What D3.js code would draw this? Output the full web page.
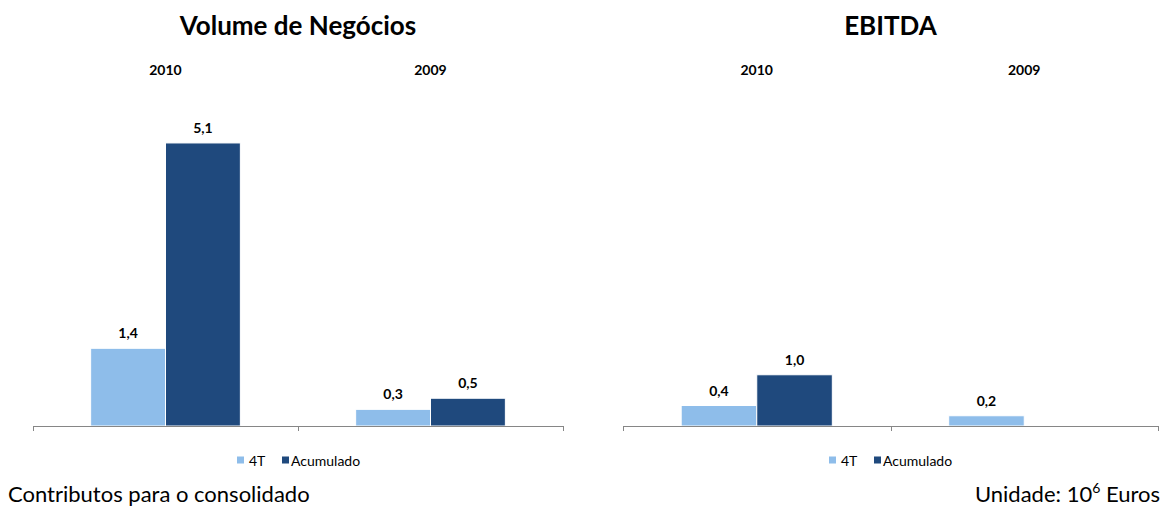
<!DOCTYPE html>
<html>
<head>
<meta charset="utf-8">
<script src="https://cdn.jsdelivr.net/npm/d3@7/dist/d3.min.js"></script>
<style>
  html, body { margin: 0; padding: 0; background: #fff; }
  svg { display: block; font-family: Lato, "Open Sans", sans-serif; }
</style>
</head>
<body>
<svg id="chart" width="1169" height="509"></svg>
<script>
// Categories and series
const years = ["2010", "2009"];
const seriesNames = ["4T", "Acumulado"];
const seriesColors = ["#8EBDEA", "#1F497D"];

// Volume de Negócios (10^6 Euros)
const volume4T = [1.4, 0.3];
const volumeAcumulado = [5.1, 0.5];

// EBITDA (10^6 Euros); no cumulative value shown for 2009
const ebitda4T = [0.4, 0.2];
const ebitdaAcumulado = [1.0, null];

const fmt = v => d3.format(".1f")(v).replace(".", ",");

const svg = d3.select("#chart");

function panel(opts) {
  const { title, left, right, yMax, s4T, sAcum, legendX } = opts;
  const baseY = 426, topY = 93;
  const g = svg.append("g");

  const x0 = d3.scaleBand().domain(years).range([left, right]).paddingInner(0).paddingOuter(0);
  const x1 = d3.scaleBand().domain(seriesNames).range([0, x0.bandwidth()]).paddingInner(0).paddingOuter(0.77);
  const y = d3.scaleLinear().domain([0, yMax]).range([baseY, topY]);

  // title
  g.append("text")
    .attr("x", (left + right) / 2).attr("y", 35)
    .attr("text-anchor", "middle")
    .attr("font-size", 26).attr("font-weight", "bold").attr("fill", "#000")
    .text(title);

  // year labels above each group
  g.selectAll(".yr").data(years).join("text")
    .attr("x", d => x0(d) + x0.bandwidth() / 2)
    .attr("y", 75)
    .attr("text-anchor", "middle")
    .attr("font-size", 14).attr("font-weight", "bold").attr("fill", "#000")
    .text(d => d);

  const rows = [];
  years.forEach((yr, i) => {
    rows.push({ year: yr, series: "4T", value: s4T[i], color: seriesColors[0] });
    rows.push({ year: yr, series: "Acumulado", value: sAcum[i], color: seriesColors[1] });
  });
  const data = rows.filter(r => r.value != null);

  g.selectAll(".bar").data(data).join("rect")
    .attr("x", d => x0(d.year) + x1(d.series))
    .attr("y", d => y(d.value))
    .attr("width", x1.bandwidth())
    .attr("height", d => baseY - y(d.value))
    .attr("fill", d => d.color)
    .attr("stroke", "#fff").attr("stroke-width", 1);

  g.selectAll(".lbl").data(data).join("text")
    .attr("x", d => x0(d.year) + x1(d.series) + x1.bandwidth() / 2)
    .attr("y", d => y(d.value) - 10)
    .attr("text-anchor", "middle")
    .attr("font-size", 14).attr("font-weight", "bold").attr("fill", "#000")
    .text(d => fmt(d.value));

  // category axis with boundary ticks
  const axisG = g.append("g").attr("transform", `translate(0,${baseY})`);
  axisG.append("line")
    .attr("x1", left).attr("x2", right).attr("y1", 0.5).attr("y2", 0.5)
    .attr("stroke", "#868686").attr("stroke-width", 1);
  const tickXs = years.map(d => x0(d)).concat([right]);
  axisG.selectAll(".tk").data(tickXs).join("line")
    .attr("x1", d => Math.round(d) + 0.5).attr("x2", d => Math.round(d) + 0.5)
    .attr("y1", 0).attr("y2", 5)
    .attr("stroke", "#868686").attr("stroke-width", 1);

  // legend
  const lg = g.append("g").attr("transform", `translate(${legendX},460)`);
  lg.append("rect").attr("x", 0).attr("y", -3.5).attr("width", 7).attr("height", 7).attr("fill", seriesColors[0]);
  lg.append("text").attr("x", 12).attr("y", 5.5).attr("font-size", 14).attr("fill", "#000").text(seriesNames[0]);
  lg.append("rect").attr("x", 45).attr("y", -3.5).attr("width", 7).attr("height", 7).attr("fill", seriesColors[1]);
  lg.append("text").attr("x", 54).attr("y", 5.5).attr("font-size", 14).attr("fill", "#000").text(seriesNames[1]);
}

panel({ title: "Volume de Negócios", left: 33, right: 563, yMax: 6, s4T: volume4T, sAcum: volumeAcumulado, legendX: 237 });
panel({ title: "EBITDA", left: 623, right: 1158, yMax: 6.5, s4T: ebitda4T, sAcum: ebitdaAcumulado, legendX: 829 });

// footer notes
svg.append("text")
  .attr("x", 8).attr("y", 502)
  .attr("font-size", 22).attr("fill", "#000")
  .text("Contributos para o consolidado");

const unit = svg.append("text")
  .attr("x", 1160).attr("y", 502)
  .attr("text-anchor", "end")
  .attr("font-size", 22).attr("fill", "#000");
unit.append("tspan").text("Unidade: 10");
unit.append("tspan").attr("dy", -9).attr("font-size", 14).text("6");
unit.append("tspan").attr("dy", 9).text(" Euros");
</script>
</body>
</html>
